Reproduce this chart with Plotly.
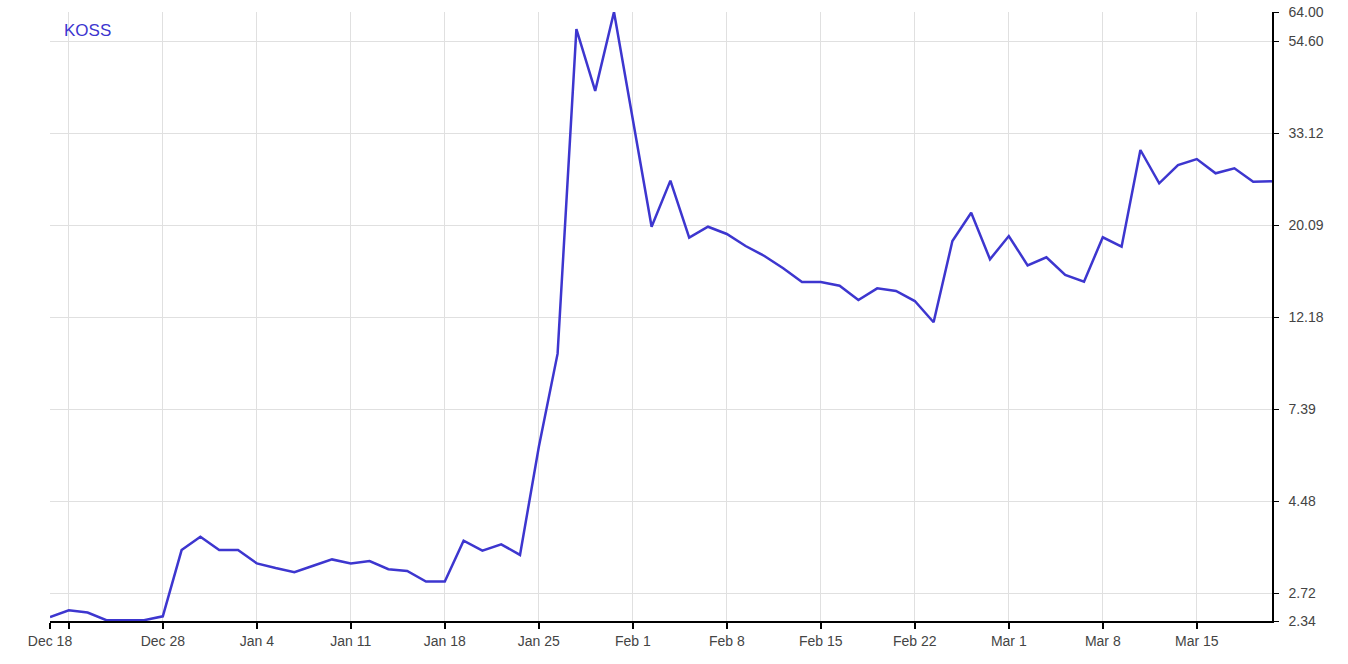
import plotly.graph_objects as go
import math

# Trading days (category axis)
dates = [
    "2020-12-18", "2020-12-21", "2020-12-22", "2020-12-23", "2020-12-24", "2020-12-25",
    "2020-12-28", "2020-12-29", "2020-12-30", "2020-12-31", "2021-01-01",
    "2021-01-04", "2021-01-05", "2021-01-06", "2021-01-07", "2021-01-08",
    "2021-01-11", "2021-01-12", "2021-01-13", "2021-01-14", "2021-01-15",
    "2021-01-18", "2021-01-19", "2021-01-20", "2021-01-21", "2021-01-22",
    "2021-01-25", "2021-01-26", "2021-01-27", "2021-01-28", "2021-01-29",
    "2021-02-01", "2021-02-02", "2021-02-03", "2021-02-04", "2021-02-05",
    "2021-02-08", "2021-02-09", "2021-02-10", "2021-02-11", "2021-02-12",
    "2021-02-15", "2021-02-16", "2021-02-17", "2021-02-18", "2021-02-19",
    "2021-02-22", "2021-02-23", "2021-02-24", "2021-02-25", "2021-02-26",
    "2021-03-01", "2021-03-02", "2021-03-03", "2021-03-04", "2021-03-05",
    "2021-03-08", "2021-03-09", "2021-03-10", "2021-03-11", "2021-03-12",
    "2021-03-15", "2021-03-16", "2021-03-17", "2021-03-18", "2021-03-19",
]

koss = [
    2.39, 2.48, 2.45, 2.35, 2.35, 2.35,
    2.40, 3.44, 3.70, 3.44, 3.44,
    3.20, 3.12, 3.05, 3.16, 3.27,
    3.20, 3.24, 3.10, 3.07, 2.90,
    2.90, 3.62, 3.43, 3.55, 3.35,
    6.02, 10.0, 58.3, 41.7, 64.0,
    35.6, 19.93, 25.6, 18.78, 19.93,
    19.16, 17.95, 17.0, 15.9, 14.76,
    14.76, 14.47, 13.39, 14.26, 14.06,
    13.31, 11.86, 18.44, 21.51, 16.70,
    18.95, 16.16, 16.88, 15.33, 14.79,
    18.82, 17.88, 30.24, 25.23, 27.87,
    28.79, 26.64, 27.38, 25.45, 25.5,
]

x_tick_dates = ["2020-12-18", "2020-12-21", "2020-12-28", "2021-01-04", "2021-01-11",
                "2021-01-18", "2021-01-25", "2021-02-01", "2021-02-08", "2021-02-15",
                "2021-02-22", "2021-03-01", "2021-03-08", "2021-03-15"]
x_tick_labels = ["Dec 18", "", "Dec 28", "Jan 4", "Jan 11", "Jan 18", "Jan 25", "Feb 1",
                 "Feb 8", "Feb 15", "Feb 22", "Mar 1", "Mar 8", "Mar 15"]

y_ticks = [2.34, 2.72, 4.48, 7.39, 12.18, 20.09, 33.12, 54.60, 64.00]
y_tick_labels = ["%.2f" % v for v in y_ticks]

line_color = "#3d36cf"
grid_color = "#e0e0e0"
font_family = "Liberation Sans, Arial, sans-serif"

fig = go.Figure()
fig.add_trace(go.Scatter(
    x=dates, y=koss, mode="lines",
    line=dict(color=line_color, width=2.5),
    name="KOSS", hoverinfo="x+y",
))

fig.update_layout(
    width=1348, height=664,
    margin=dict(l=50, r=76, t=12, b=43),
    paper_bgcolor="white", plot_bgcolor="white",
    showlegend=False,
    font=dict(family=font_family, size=14, color="#444"),
    xaxis=dict(
        type="category", automargin=False,
        range=[0, len(dates) - 1],
        tickmode="array", tickvals=x_tick_dates, ticktext=x_tick_labels,
        showgrid=True, gridcolor=grid_color, gridwidth=1,
        showline=True, linecolor="black", linewidth=1.5,
        ticks="outside", ticklen=6, tickcolor="black", tickwidth=1.5,
        tickfont=dict(size=14, color="#444"),
        zeroline=False,
    ),
    yaxis=dict(
        type="log", side="right", automargin=False,
        range=[math.log10(y_ticks[0]), math.log10(y_ticks[-1])],
        tickmode="array", tickvals=y_ticks, ticktext=y_tick_labels,
        showgrid=True, gridcolor=grid_color, gridwidth=1,
        showline=True, linecolor="black", linewidth=1.5,
        ticks="outside", ticklen=5, tickcolor="black", tickwidth=1,
        ticklabelstandoff=7,
        tickfont=dict(size=14, color="#444"),
        zeroline=False,
    ),
    annotations=[dict(
        text="KOSS", xref="paper", yref="paper",
        x=(62 - 50) / 1222, y=(621 - 31) / 609,
        xanchor="left", yanchor="middle", showarrow=False,
        font=dict(family=font_family, size=17, color=line_color),
    )],
)

fig.write_html("out.html", config={"displayModeBar": False},
               post_script="document.body.style.margin='0';")
